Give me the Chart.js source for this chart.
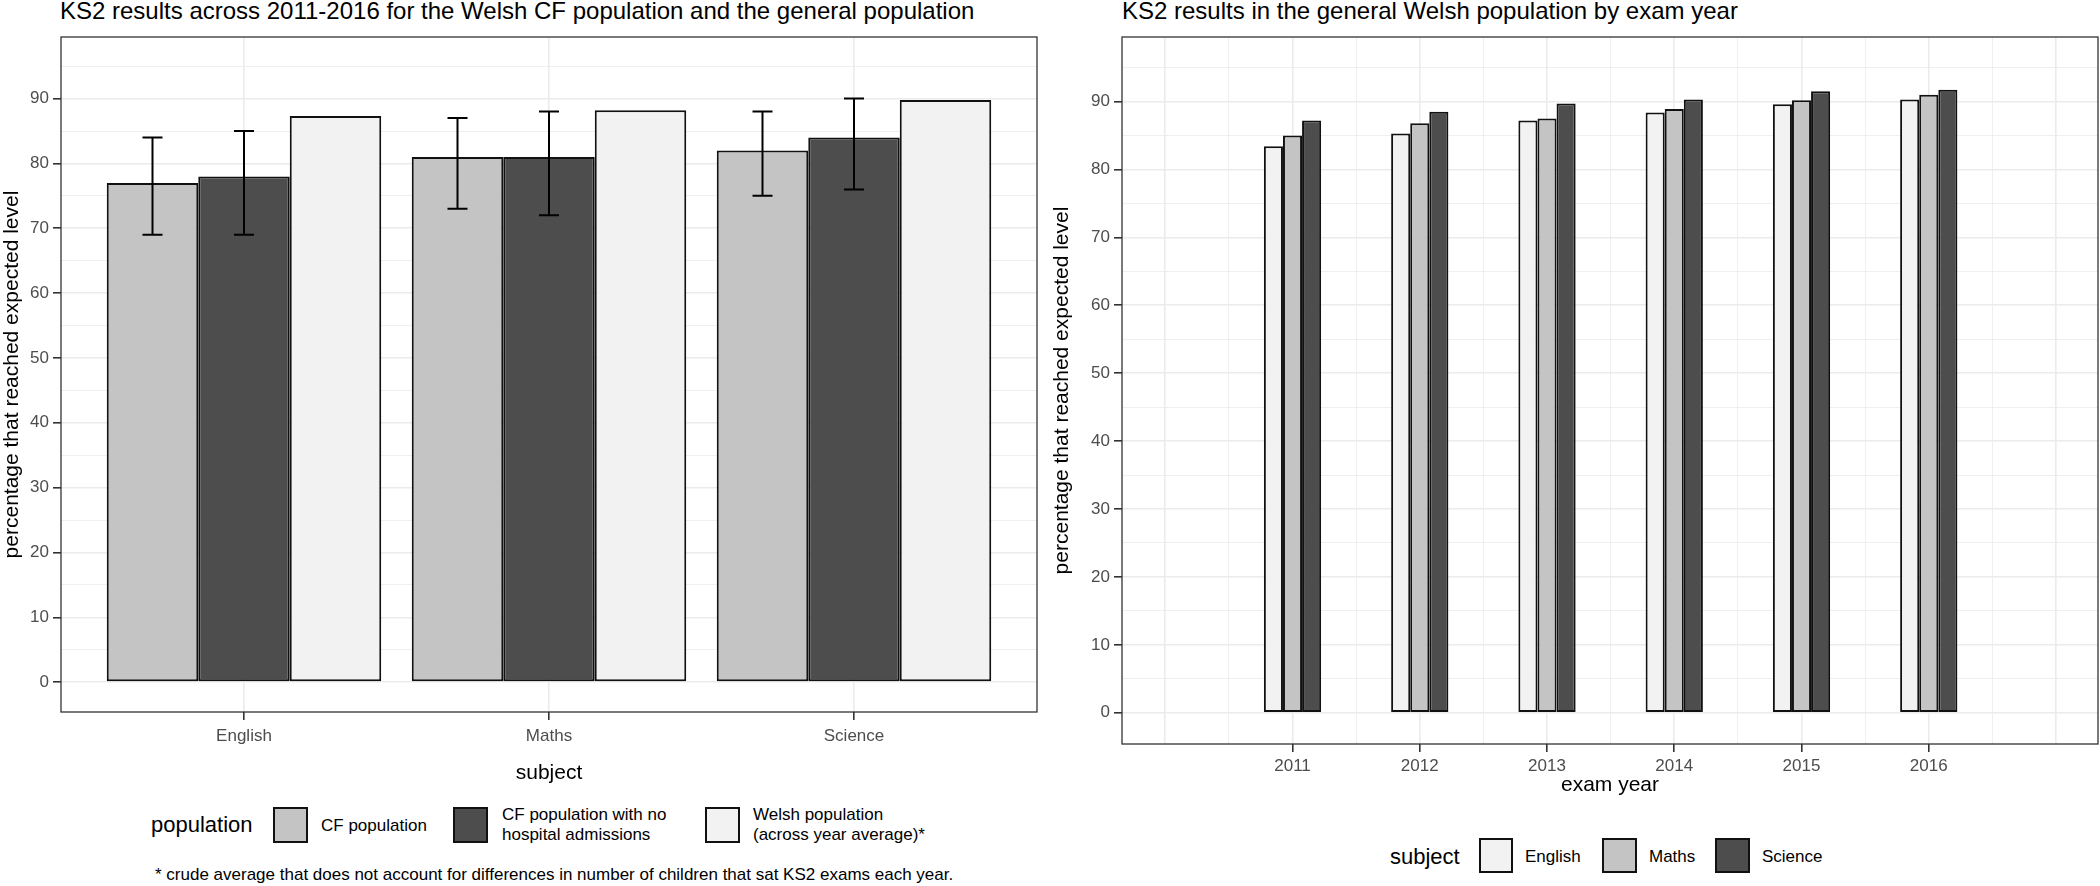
<!DOCTYPE html>
<html><head><meta charset="utf-8">
<script src="https://cdn.jsdelivr.net/npm/chart.js@4"></script>
<style>
body{margin:0;background:#fff;font-family:"Liberation Sans",Arial,sans-serif;}
#wrap{position:relative;width:2100px;height:886px;overflow:hidden;}
canvas{position:absolute;}
.t{position:absolute;white-space:nowrap;color:#000;}
.key{position:absolute;border:2px solid #111;box-sizing:border-box;}
</style></head><body>
<div id="wrap">
<div class="t" style="left:60px;top:-3px;font-size:24px;">KS2 results across 2011-2016 for the Welsh CF population and the general population</div>
<div class="t" style="left:1122px;top:-3px;font-size:24px;">KS2 results in the general Welsh population by exam year</div>
<div style="position:absolute;left:0;top:0;width:1050px;height:790px;"><canvas id="c1"></canvas></div>
<div style="position:absolute;left:1050px;top:0;width:1050px;height:802px;"><canvas id="c2"></canvas></div>

<div class="t" style="left:151px;top:812px;font-size:22px;">population</div>
<div class="key" style="left:273px;top:807px;width:35px;height:36px;background:#C4C4C4"></div>
<div class="t" style="left:321px;top:816px;font-size:17px;">CF population</div>
<div class="key" style="left:453px;top:807px;width:35px;height:36px;background:#4D4D4D"></div>
<div class="t" style="left:502px;top:805px;font-size:17px;line-height:20px;">CF population with no<br>hospital admissions</div>
<div class="key" style="left:705px;top:807px;width:35px;height:36px;background:#F2F2F2"></div>
<div class="t" style="left:753px;top:805px;font-size:17px;line-height:20px;">Welsh population<br>(across year average)*</div>
<div class="t" style="left:155px;top:865px;font-size:17px;">* crude average that does not account for differences in number of children that sat KS2 exams each year.</div>

<div class="t" style="left:1390px;top:844px;font-size:22px;">subject</div>
<div class="key" style="left:1479px;top:838px;width:34px;height:35px;background:#F2F2F2"></div>
<div class="t" style="left:1525px;top:847px;font-size:17px;">English</div>
<div class="key" style="left:1602px;top:838px;width:35px;height:35px;background:#C4C4C4"></div>
<div class="t" style="left:1649px;top:847px;font-size:17px;">Maths</div>
<div class="key" style="left:1715px;top:838px;width:35px;height:35px;background:#4D4D4D"></div>
<div class="t" style="left:1762px;top:847px;font-size:17px;">Science</div>
</div>
<script>
// ---- data ----
const subjects = ["English", "Maths", "Science"];
const cfPop = [77, 81, 82];
const cfPopLo = [69, 73, 75];
const cfPopHi = [84, 87, 88];
const cfNoHosp = [78, 81, 84];
const cfNoHospLo = [69, 72, 76];
const cfNoHospHi = [85, 88, 90];
const welshAvg = [87.3, 88.2, 89.8];

const years = [2011, 2012, 2013, 2014, 2015, 2016];
const english = [83.4, 85.3, 87.2, 88.4, 89.6, 90.3];
const maths = [85.0, 86.8, 87.5, 88.9, 90.2, 91.0];
const science = [87.2, 88.5, 89.7, 90.3, 91.5, 91.75];

const yTicks = [0,5,10,15,20,25,30,35,40,45,50,55,60,65,70,75,80,85,90,95];

Chart.defaults.font.family = '"Liberation Sans", Arial, sans-serif';
Chart.defaults.animation = false;

const GRID = '#EBEBEB';
const border = {
  id:'border',
  afterDraw(c){const a=c.chartArea,x=c.ctx;x.save();x.strokeStyle='#333';x.lineWidth=1.3;x.strokeRect(a.left,a.top,a.right-a.left,a.bottom-a.top);x.restore();}
};
const errBars = {
  id:'errBars',
  afterDatasetsDraw(c){
    const x=c.ctx, ys=c.scales.y;
    [[0,cfPopLo,cfPopHi],[1,cfNoHospLo,cfNoHospHi]].forEach(([di,lo,hi])=>{
      c.getDatasetMeta(di).data.forEach((el,j)=>{
        const yl=ys.getPixelForValue(lo[j]), yh=ys.getPixelForValue(hi[j]);
        x.save();x.strokeStyle='#000';x.lineWidth=2;x.beginPath();
        x.moveTo(el.x,yl);x.lineTo(el.x,yh);
        x.moveTo(el.x-10,yl);x.lineTo(el.x+10,yl);
        x.moveTo(el.x-10,yh);x.lineTo(el.x+10,yh);
        x.stroke();x.restore();
      });
    });
  }
};

function yScale(w){
  return {
    min:-4.6,max:99.5,
    afterBuildTicks(s){s.ticks=yTicks.map(v=>({value:v}));},
    afterFit(s){s.width=w;},
    ticks:{color:'#4D4D4D',font:{size:17},padding:4,callback:v=>(v%10===0?String(v):'')},
    grid:{color:GRID,lineWidth:ctx=>(ctx.tick&&ctx.tick.value%10===0?1.6:0.8),
      tickColor:ctx=>(ctx.tick&&ctx.tick.value%10===0?'#333':'rgba(0,0,0,0)'),tickLength:8,drawTicks:true},
    border:{display:false},
    title:{display:true,text:'percentage that reached expected level',color:'#000',font:{size:21},padding:{top:0,bottom:2}}
  };
}
const ds = (label,data,xs,color)=>({label,data:data.map((v,i)=>({x:xs[i],y:v})),backgroundColor:color,borderColor:'#111',borderWidth:2,borderSkipped:false,categoryPercentage:0.9,barPercentage:1,grouped:true});

new Chart(document.getElementById('c1'),{
  type:'bar',
  data:{datasets:[
    ds('CF population',cfPop,[1,2,3],'#C4C4C4'),
    ds('CF population with no hospital admissions',cfNoHosp,[1,2,3],'#4D4D4D'),
    ds('Welsh population (across year average)*',welshAvg,[1,2,3],'#F2F2F2')
  ]},
  options:{responsive:true,maintainAspectRatio:false,
    layout:{padding:{left:0,right:13,top:37,bottom:0}},
    plugins:{legend:{display:false},tooltip:{enabled:false}},
    scales:{
      x:{type:'linear',min:0.4,max:3.6,offset:false,
        afterBuildTicks(s){s.ticks=subjects.map((_,i)=>({value:i+1}));},
        afterFit(s){s.height=78;},
        ticks:{color:'#4D4D4D',font:{size:17},padding:6,callback:v=>subjects[v-1]||''},
        grid:{offset:false,color:GRID,lineWidth:1.6,tickColor:'#333',tickLength:8},
        border:{display:false},
        title:{display:true,text:'subject',color:'#000',font:{size:21},padding:{top:0}}
      },
      y:yScale(61)
    }
  },
  plugins:[border,errBars]
});

const xYearTicks=[2010,2010.5,2011,2011.5,2012,2012.5,2013,2013.5,2014,2014.5,2015,2015.5,2016,2016.5,2017];
new Chart(document.getElementById('c2'),{
  type:'bar',
  data:{datasets:[
    ds('English',english,years,'#F2F2F2'),
    ds('Maths',maths,years,'#C4C4C4'),
    ds('Science',science,years,'#4D4D4D')
  ]},
  options:{responsive:true,maintainAspectRatio:false,
    layout:{padding:{left:0,right:2,top:37,bottom:0}},
    plugins:{legend:{display:false},tooltip:{enabled:false}},
    scales:{
      x:{type:'linear',min:2009.66,max:2017.33,offset:false,
        afterBuildTicks(s){s.ticks=xYearTicks.map(v=>({value:v}));},
        afterFit(s){s.height=58;},
        ticks:{color:'#4D4D4D',font:{size:17},padding:4,autoSkip:false,maxRotation:0,
          callback:v=>(years.includes(v)?String(v):'')},
        grid:{offset:false,color:GRID,lineWidth:ctx=>(ctx.tick&&Number.isInteger(ctx.tick.value)?1.6:0.8),
          tickColor:ctx=>(ctx.tick&&years.includes(ctx.tick.value)?'#333':'rgba(0,0,0,0)'),tickLength:8},
        border:{display:false},
        title:{display:true,text:'exam year',color:'#000',font:{size:21},padding:{top:0}}
      },
      y:yScale(72)
    }
  },
  plugins:[border]
});
</script>
</body></html>
